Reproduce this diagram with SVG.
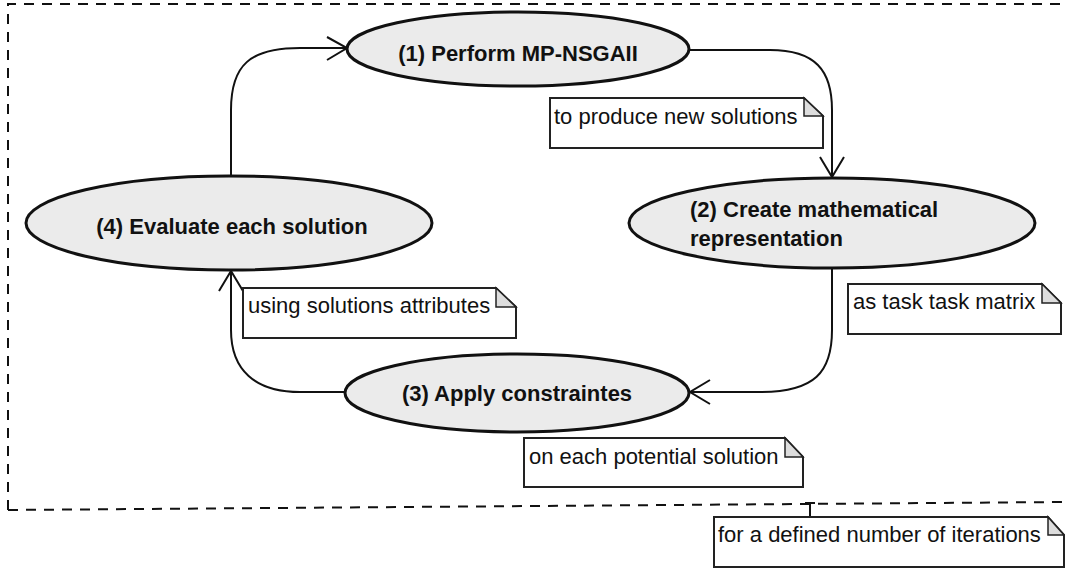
<svg xmlns="http://www.w3.org/2000/svg" width="1065" height="569" viewBox="0 0 1065 569">
<style>
.frame{fill:none;stroke:#111;stroke-width:2;stroke-dasharray:10 8}
.act{fill:#ebebeb;stroke:#111;stroke-width:3}
.title{font-family:"Liberation Sans",Arial,sans-serif;font-size:22px;font-weight:bold;fill:#111}
.note{fill:#fff;stroke:#222;stroke-width:2}
.fold{fill:#ddd;stroke:#222;stroke-width:1.5}
.ntext{font-family:"Liberation Sans",Arial,sans-serif;font-size:22px;fill:#111}
.conn{fill:none;stroke:#111;stroke-width:2}
</style>
<g id="frame">
<path class="frame" d="M8,510 L8,4 L1065,4"/>
<path class="frame" d="M8,510 L1065,502"/>
</g>
<g id="connectors">
<path class="conn" d="M231,176 L231,110 C231,65 250,48 300,48 L347,48"/>
<path class="conn" d="M327,37 L347,48 L327,60"/>
<path class="conn" d="M687,50 L770,50 C815,50 832,70 832,110 L832,177"/>
<path class="conn" d="M820,157 L832,177 L844,157"/>
<path class="conn" d="M832,268 L832,330 C832,372 815,392 760,392 L690,392"/>
<path class="conn" d="M710,380 L690,392 L710,404"/>
<path class="conn" d="M345,392 L300,392 C255,392 231,370 231,330 L231,271"/>
<path class="conn" d="M219,291 L231,271 L243,291"/>
<path class="conn" d="M810,503 L810,517 M805,503 L815,503"/>
</g>
<g id="node1">
<ellipse class="act" cx="518" cy="49" rx="171" ry="37"/>
<text class="title" x="518" y="61" text-anchor="middle">(1) Perform MP-NSGAII</text>
</g>
<g id="node2">
<ellipse class="act" cx="832" cy="223" rx="203" ry="45"/>
<text class="title" x="690" y="217">(2) Create mathematical</text>
<text class="title" x="690" y="246">representation</text>
</g>
<g id="node3">
<ellipse class="act" cx="517" cy="393" rx="172" ry="39"/>
<text class="title" x="517" y="401" text-anchor="middle">(3) Apply constraintes</text>
</g>
<g id="node4">
<ellipse class="act" cx="229" cy="223" rx="203" ry="47"/>
<text class="title" x="232" y="234" text-anchor="middle">(4) Evaluate each solution</text>
</g>
<g id="note1">
<path class="note" d="M550,98 L804,98 L823,116 L823,148 L550,148 Z"/>
<path class="fold" d="M804,98 L804,116 L823,116 Z"/>
<text class="ntext" x="554" y="124">to produce new solutions</text>
</g>
<g id="note2">
<path class="note" d="M848,284 L1042,284 L1061,303 L1061,334 L848,334 Z"/>
<path class="fold" d="M1042,284 L1042,303 L1061,303 Z"/>
<text class="ntext" x="853" y="309">as task task matrix</text>
</g>
<g id="note3">
<path class="note" d="M243,288 L496,288 L516,307 L516,338 L243,338 Z"/>
<path class="fold" d="M496,288 L496,307 L516,307 Z"/>
<text class="ntext" x="248" y="313">using solutions attributes</text>
</g>
<g id="note4">
<path class="note" d="M524,438 L785,438 L803,457 L803,487 L524,487 Z"/>
<path class="fold" d="M785,438 L785,457 L803,457 Z"/>
<text class="ntext" x="529" y="464">on each potential solution</text>
</g>
<g id="note5">
<path class="note" d="M714,517 L1048,517 L1064,535 L1064,567 L714,567 Z"/>
<path class="fold" d="M1048,517 L1048,535 L1064,535 Z"/>
<text class="ntext" x="718" y="542">for a defined number of iterations</text>
</g>
</svg>
